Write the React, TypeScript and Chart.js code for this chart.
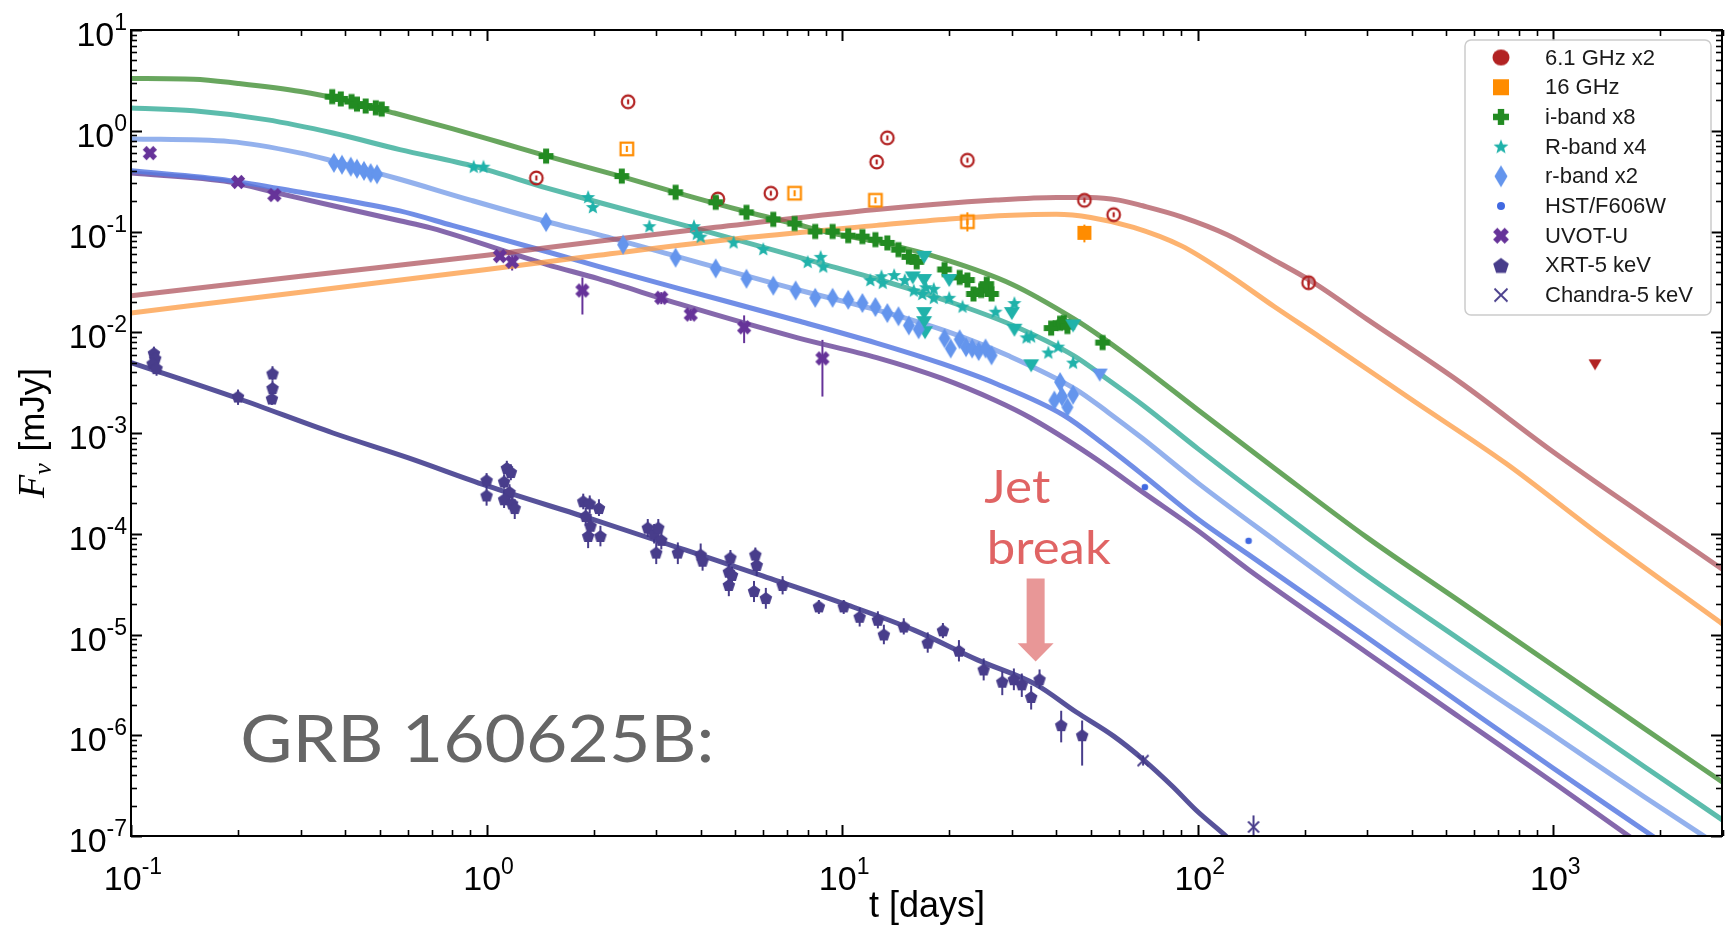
import React, { useEffect, useRef } from 'react';
import { Chart, registerables } from 'chart.js';

Chart.register(...registerables);

type P = number[];

const W = 1729;
const H = 927;

// ---------- axes ----------
const xMin = 0.1;
const xMax = 3000;
const yMin = 1e-7;
const yMax = 10;
const xTickExps = [-1, 0, 1, 2, 3];
const yTickExps = [1, 0, -1, -2, -3, -4, -5, -6, -7];
const xTitle = 't [days]';
const yTitleMain = 'F';
const yTitleSub = 'ν';
const yTitleUnit = ' [mJy]';

// ---------- legend ----------
const legendLabels = ['6.1 GHz x2', '16 GHz', 'i-band x8', 'R-band x4', 'r-band x2', 'HST/F606W', 'UVOT-U', 'XRT-5 keV', 'Chandra-5 keV'];

// ---------- annotations ----------
const grbText = 'GRB 160625B:';
const grbAt = [0.203, 5.4e-7];
const jetText = 'Jet';
const jetAt = [25.1, 2.0e-4];
const breakText = 'break';
const breakAt = [25.5, 5.0e-5];
const arrowT = 35;
const arrowF = [3.6e-5, 8.2e-6, 5.4e-6]; // shaft top, head base, tip

// ---------- model curves [t, F] ----------
const model61: P[] = [[0.1, 0.023], [0.3, 0.036], [1, 0.058], [2.06, 0.08], [4.4, 0.11], [12.5, 0.165], [27, 0.205], [40, 0.218], [50, 0.218], [60, 0.205], [70, 0.18], [90, 0.14], [121, 0.093], [164, 0.052], [209, 0.032], [299, 0.0135], [546, 0.0032], [993, 6.6e-4], [1810, 1.5e-4], [3000, 4.4e-5]];
const model16: P[] = [[0.1, 0.0155], [0.3, 0.025], [1, 0.042], [2.06, 0.058], [5.4, 0.087], [12.5, 0.115], [20, 0.133], [30, 0.145], [40, 0.148], [50, 0.138], [66, 0.11], [90, 0.072], [121, 0.038], [164, 0.018], [221, 0.0089], [403, 0.0021], [735, 5.0e-4], [1337, 1.0e-4], [3000, 1.26e-5]];
const modelI: P[] = [[0.1, 3.3], [0.15, 3.25], [0.2, 2.95], [0.3, 2.45], [0.4, 2.0], [0.55, 1.5], [0.8, 1.05], [1.1, 0.76], [1.48, 0.56], [2.4, 0.35], [3.4, 0.245], [5.35, 0.158], [7.3, 0.12], [9.25, 0.097], [12.8, 0.078], [19.7, 0.052], [30, 0.03], [45, 0.0135], [54, 0.0088], [70, 0.0045], [100, 0.0017], [164, 4.5e-4], [299, 9.2e-5], [546, 2.13e-5], [1000, 4.9e-6], [1800, 1.17e-6], [3000, 3.4e-7]];
const modelRb: P[] = [[0.1, 1.68], [0.15, 1.58], [0.24, 1.29], [0.37, 0.95], [0.57, 0.65], [0.93, 0.44], [1.48, 0.27], [2.06, 0.195], [3.85, 0.108], [8.4, 0.05], [12.8, 0.033], [19.7, 0.0205], [30, 0.0118], [45, 0.0058], [54, 0.0037], [70, 0.0019], [100, 7.0e-4], [164, 1.85e-4], [299, 3.85e-5], [546, 8.9e-6], [1000, 2.05e-6], [1800, 4.9e-7], [3000, 1.43e-7]];
const modelrb: P[] = [[0.1, 0.83], [0.19, 0.78], [0.3, 0.6], [0.37, 0.5], [0.57, 0.33], [0.9, 0.205], [1.48, 0.125], [2.06, 0.093], [3.4, 0.057], [7.3, 0.027], [12.8, 0.0163], [19.7, 0.0102], [29.5, 0.0058], [45.5, 0.0027], [56, 0.0016], [70, 8.8e-4], [100, 3.2e-4], [164, 8.7e-5], [299, 1.85e-5], [546, 4.2e-6], [1000, 1.0e-6], [1800, 2.45e-7], [3000, 7.5e-8]];
const modelHst: P[] = [[0.1, 0.40], [0.19, 0.32], [0.3, 0.245], [0.37, 0.215], [0.57, 0.16], [0.8, 0.115], [1.48, 0.063], [2.06, 0.045], [3.5, 0.027], [7.5, 0.013], [12.5, 0.0078], [19, 0.0049], [27, 0.0031], [42, 0.0015], [55, 7.5e-4], [71, 3.7e-4], [100, 1.4e-4], [139, 6.2e-5], [299, 9.4e-6], [546, 2.1e-6], [1000, 4.7e-7], [1900, 1.0e-7], [3000, 3.3e-8]];
const modelU: P[] = [[0.1, 0.38], [0.19, 0.31], [0.26, 0.24], [0.37, 0.18], [0.57, 0.128], [0.7, 0.108], [1.48, 0.047], [2.06, 0.034], [3.5, 0.019], [7.5, 0.0088], [12.5, 0.0056], [19, 0.0035], [27, 0.0021], [34, 0.0014], [50, 6.0e-4], [71, 2.5e-4], [99, 1.1e-4], [139, 4.4e-5], [299, 6.6e-6], [546, 1.5e-6], [1000, 3.4e-7], [1630, 1.0e-7], [3000, 2.2e-8]];
const modelX: P[] = [[0.1, 0.005], [0.2, 0.0022], [0.37, 0.001], [0.6, 5.7e-4], [1, 3.0e-4], [2, 1.38e-4], [3.45, 7.3e-5], [6, 3.8e-5], [10, 2.05e-5], [16, 1.1e-5], [24, 5.6e-6], [35, 3.2e-6], [45.5, 1.7e-6], [58, 9.8e-7], [70, 5.8e-7], [85, 3.1e-7], [99, 1.8e-7], [120, 1.0e-7], [140, 6.0e-8]];

// ---------- observations [t, F, (lo, hi)] ----------
const radio61: P[] = [[1.38, 0.34], [2.5, 1.94], [4.47, 0.21], [6.3, 0.24], [12.5, 0.49], [13.4, 0.85], [22.5, 0.51], [48, 0.204], [58, 0.147], [205, 0.031, 0.027, 0.036]];
const radio61UL: P[] = [[1310, 0.0048]];
const radio16: P[] = [[2.48, 0.66], [7.35, 0.24], [12.4, 0.204], [22.5, 0.125, 0.1, 0.155]];
const radio16Det: P[] = [[48, 0.097, 0.078, 0.117]];
const iBand: P[] = [[0.368, 2.18], [0.389, 2.07], [0.417, 1.95], [0.432, 1.84], [0.457, 1.76], [0.488, 1.69], [0.507, 1.64], [1.47, 0.56], [2.4, 0.355], [3.4, 0.245], [4.41, 0.195], [5.38, 0.155], [6.4, 0.132], [7.35, 0.12], [8.4, 0.1], [9.4, 0.1], [10.4, 0.091], [11.4, 0.089], [12.4, 0.083], [13.4, 0.077], [14.4, 0.066], [15.4, 0.056], [16.2, 0.05], [19.4, 0.042], [21.4, 0.035], [22.5, 0.033], [23.4, 0.024], [24.6, 0.026], [25.5, 0.03], [26.3, 0.024], [38.7, 0.011], [41, 0.0123], [42, 0.0125], [43, 0.0114], [54, 0.0079]];
const RBand: P[] = [[0.92, 0.44], [0.98, 0.44], [1.93, 0.22], [1.99, 0.175], [2.87, 0.113], [3.83, 0.113], [3.9, 0.095], [4.0, 0.089], [4.95, 0.078], [6.0, 0.067], [8.0, 0.05], [8.7, 0.056], [8.85, 0.045], [12.0, 0.033], [12.9, 0.036], [13.0, 0.031], [14.0, 0.037], [15.0, 0.033], [15.9, 0.026], [16.8, 0.024], [17.2, 0.028], [18.1, 0.027], [18.1, 0.022], [20, 0.022], [21.8, 0.018], [27, 0.016], [30.5, 0.0195], [33, 0.0089], [34, 0.0091], [38, 0.0063], [40.5, 0.0072], [44.6, 0.005]];
const RBandUL: P[] = [[15.8, 0.035], [17, 0.056], [17, 0.033], [17, 0.0155], [17, 0.0126], [17.1, 0.01], [20, 0.033], [30, 0.0155], [30.5, 0.0106], [34, 0.0047], [44.6, 0.0117]];
const rBand: P[] = [[0.372, 0.48], [0.392, 0.46], [0.415, 0.44], [0.432, 0.42], [0.452, 0.40], [0.472, 0.38], [0.492, 0.37], [1.47, 0.124], [2.42, 0.074], [3.4, 0.055], [4.41, 0.043], [5.38, 0.034], [6.4, 0.029], [7.4, 0.026], [8.4, 0.022], [9.4, 0.022], [10.4, 0.021], [11.4, 0.0195], [12.4, 0.0178], [13.4, 0.0155], [14.4, 0.0144], [15.4, 0.0117], [16.4, 0.0107], [19.4, 0.0087], [20.2, 0.0069], [21.4, 0.0085], [22.3, 0.0071], [23.2, 0.0069], [24.2, 0.0065], [25.3, 0.0069], [26.3, 0.0059], [39.5, 0.0021], [41, 0.0032], [41.5, 0.0023], [43, 0.0018], [44.6, 0.0024]];
const rBandUL: P[] = [[53, 0.0038]];
const hst: P[] = [[71, 2.9e-4], [139, 8.5e-5]];
const uvot: P[] = [[0.113, 0.6, 0.56, 0.64], [0.2, 0.31, 0.29, 0.33], [0.253, 0.23, 0.215, 0.245], [1.09, 0.057, 0.053, 0.061], [1.18, 0.05, 0.041, 0.058], [1.86, 0.026, 0.015, 0.035], [3.1, 0.022, 0.019, 0.025], [3.75, 0.015, 0.013, 0.017], [5.3, 0.0112, 0.0078, 0.0147], [8.8, 0.0055, 0.0023, 0.0084]];
const xrt: P[] = [
  [0.116, 0.0062, 0.0052, 0.0072], [0.117, 0.0055, 0.0047, 0.0064], [0.115, 0.0049, 0.0042, 0.0057], [0.118, 0.0044, 0.0037, 0.0051],
  [0.2, 0.0023, 0.0019, 0.0027], [0.25, 0.0039, 0.0033, 0.0046], [0.25, 0.0028, 0.0024, 0.0033], [0.249, 0.0022, 0.0019, 0.0026],
  [1.0, 3.4e-4, 2.9e-4, 4.0e-4], [1.0, 2.4e-4, 1.9e-4, 2.9e-4], [1.14, 4.5e-4, 3.8e-4, 5.3e-4], [1.17, 4.1e-4, 3.4e-4, 4.9e-4], [1.12, 3.3e-4, 2.8e-4, 3.9e-4], [1.16, 2.6e-4, 2.1e-4, 3.1e-4], [1.12, 2.2e-4, 1.8e-4, 2.7e-4], [1.18, 2.0e-4, 1.6e-4, 2.4e-4], [1.2, 1.8e-4, 1.4e-4, 2.2e-4],
  [1.87, 2.1e-4, 1.75e-4, 2.5e-4], [1.95, 2.0e-4, 1.6e-4, 2.4e-4], [2.07, 1.8e-4, 1.5e-4, 2.2e-4], [1.9, 1.5e-4, 1.2e-4, 1.8e-4], [1.96, 1.2e-4, 0.95e-4, 1.5e-4], [1.93, 9.5e-5, 7.2e-5, 1.2e-4], [2.09, 9.5e-5, 7.5e-5, 1.2e-4],
  [2.84, 1.15e-4, 9.3e-5, 1.4e-4], [2.96, 1.0e-4, 8e-5, 1.25e-4], [3.04, 1.15e-4, 9.3e-5, 1.4e-4], [3.1, 8.7e-5, 7e-5, 1.08e-4], [3.0, 6.5e-5, 5.0e-5, 8.2e-5], [3.45, 6.5e-5, 5.0e-5, 8.2e-5],
  [4.0, 6.2e-5, 4.8e-5, 8.0e-5], [4.05, 5.4e-5, 4.3e-5, 6.6e-5], [4.85, 5.8e-5, 4.9e-5, 6.9e-5], [4.8, 4.2e-5, 3.5e-5, 5.0e-5], [4.9, 3.9e-5, 3.2e-5, 4.7e-5], [4.8, 3.1e-5, 2.4e-5, 3.8e-5],
  [5.7, 6.2e-5, 5.2e-5, 7.3e-5], [5.75, 4.9e-5, 3.8e-5, 6.1e-5], [5.65, 2.7e-5, 2.1e-5, 3.4e-5], [6.1, 2.3e-5, 1.8e-5, 2.9e-5], [6.8, 3.1e-5, 2.5e-5, 3.8e-5],
  [8.6, 1.9e-5, 1.6e-5, 2.2e-5], [10.1, 1.9e-5, 1.6e-5, 2.2e-5], [11.2, 1.5e-5, 1.2e-5, 1.85e-5], [12.6, 1.4e-5, 1.15e-5, 1.7e-5], [13.1, 1.0e-5, 0.8e-5, 1.25e-5], [14.9, 1.2e-5, 1.0e-5, 1.45e-5],
  [17.4, 8.3e-6, 6.6e-6, 1.05e-5], [19.2, 1.1e-5, 0.92e-5, 1.3e-5], [21.3, 6.9e-6, 5.4e-6, 8.8e-6], [25, 4.5e-6, 3.5e-6, 5.8e-6], [28.2, 3.4e-6, 2.5e-6, 4.3e-6], [30.4, 3.6e-6, 2.8e-6, 4.6e-6],
  [32, 3.2e-6, 2.4e-6, 4.1e-6], [34, 2.4e-6, 1.8e-6, 3.1e-6], [35.9, 3.6e-6, 2.9e-6, 4.5e-6], [41.3, 1.26e-6, 0.85e-6, 1.75e-6], [47.3, 1.0e-6, 0.5e-6, 1.4e-6]
];
const chandra: P[] = [[70.2, 5.6e-7, 5.0e-7, 6.3e-7], [143.5, 1.23e-7, 1.0e-7, 1.6e-7]];

// ---------- colours ----------
const COL = {
  r61: '#b22222', o16: '#ff8c00', iB: '#228b22', RB: '#20b2aa', rB: '#6495ed', hst: '#4169e1', uvot: '#663399', xrt: '#483d8b',
  m61: 'rgba(172, 78, 88, 0.72)', m16: 'rgba(252, 158, 72, 0.78)', mI: 'rgba(78, 150, 66, 0.85)', mR: 'rgba(64, 176, 158, 0.85)',
  mr: 'rgba(128, 163, 234, 0.85)', mH: 'rgba(88, 122, 226, 0.85)', mU: 'rgba(112, 78, 158, 0.85)', mX: 'rgba(58, 52, 136, 0.85)'
};

const SANS = '"Liberation Sans", Arial, sans-serif';
const DECO = 'Lato, "Open Sans", sans-serif';
const TICK_BASE = 34;
const TICK_SUP = 23;

// ---------- marker images ----------
function cvs(w: number, h: number, draw: (g: CanvasRenderingContext2D, cx: number, cy: number) => void) {
  const c = document.createElement('canvas');
  c.width = w;
  c.height = h;
  const g = c.getContext('2d') as CanvasRenderingContext2D;
  draw(g, w / 2, h / 2);
  return c;
}
function fillPoly(g: CanvasRenderingContext2D, pts: number[][], color: string) {
  g.fillStyle = color;
  g.beginPath();
  pts.forEach((p, i) => (i ? g.lineTo(p[0], p[1]) : g.moveTo(p[0], p[1])));
  g.closePath();
  g.fill();
}
function plusPts(cx: number, cy: number, s: number, a: number, rot: number) {
  const raw = [[-a, -s], [a, -s], [a, -a], [s, -a], [s, a], [a, a], [a, s], [-a, s], [-a, a], [-s, a], [-s, -a], [-a, -a]];
  const c = Math.cos(rot), sn = Math.sin(rot);
  return raw.map(([x, y]) => [cx + x * c - y * sn, cy + x * sn + y * c]);
}
function starPts(cx: number, cy: number, R: number, r: number) {
  const pts: number[][] = [];
  for (let i = 0; i < 10; i++) {
    const a = -Math.PI / 2 + (i * Math.PI) / 5;
    const rad = i % 2 ? r : R;
    pts.push([cx + rad * Math.cos(a), cy + rad * Math.sin(a)]);
  }
  return pts;
}
function ngon(cx: number, cy: number, R: number, n: number) {
  const pts: number[][] = [];
  for (let i = 0; i < n; i++) {
    const a = -Math.PI / 2 + (i * 2 * Math.PI) / n;
    pts.push([cx + R * Math.cos(a), cy + R * Math.sin(a) + R * 0.1]);
  }
  return pts;
}

function buildMarkers() {
  const m: any = {};
  m.redOpen = cvs(18, 18, (g, cx, cy) => {
    g.strokeStyle = COL.r61; g.lineWidth = 2.2;
    g.beginPath(); g.arc(cx, cy, 6.3, 0, Math.PI * 2); g.stroke();
    g.beginPath(); g.moveTo(cx, cy - 2.5); g.lineTo(cx, cy + 2.5); g.stroke();
  });
  m.redTri = cvs(16, 14, (g) => fillPoly(g, [[1.5, 2], [14.5, 2], [8, 13]], COL.r61));
  m.orgOpen = cvs(18, 18, (g, cx, cy) => {
    g.strokeStyle = COL.o16; g.lineWidth = 2.2;
    g.strokeRect(cx - 6.3, cy - 6.3, 12.6, 12.6);
    g.beginPath(); g.moveTo(cx, cy - 3); g.lineTo(cx, cy + 3); g.stroke();
  });
  m.orgFill = cvs(16, 16, (g, cx, cy) => { g.fillStyle = COL.o16; g.fillRect(cx - 7, cy - 7, 14, 14); });
  m.plus = cvs(18, 18, (g, cx, cy) => fillPoly(g, plusPts(cx, cy, 7.4, 3.0, 0), COL.iB));
  m.star = cvs(20, 20, (g, cx, cy) => fillPoly(g, starPts(cx, cy + 0.5, 7.4, 3.2), COL.RB));
  m.tealTri = cvs(18, 16, (g) => fillPoly(g, [[1, 2], [17, 2], [9, 15]], COL.RB));
  m.diam = cvs(14, 22, (g, cx, cy) => fillPoly(g, [[cx, cy - 10], [cx + 6, cy], [cx, cy + 10], [cx - 6, cy]], COL.rB));
  m.lbTri = cvs(18, 16, (g) => fillPoly(g, [[1, 2], [17, 2], [9, 15]], COL.rB));
  m.dot = cvs(10, 10, (g, cx, cy) => { g.fillStyle = COL.hst; g.beginPath(); g.arc(cx, cy, 3.3, 0, Math.PI * 2); g.fill(); });
  m.xfill = cvs(18, 18, (g, cx, cy) => fillPoly(g, plusPts(cx, cy, 7.4, 2.7, Math.PI / 4), COL.uvot));
  m.pent = cvs(16, 16, (g, cx, cy) => fillPoly(g, ngon(cx, cy, 6.6, 5), COL.xrt));
  m.xthin = cvs(16, 16, (g, cx, cy) => {
    g.strokeStyle = COL.xrt; g.lineWidth = 1.8;
    g.beginPath(); g.moveTo(cx - 5.5, cy - 5.5); g.lineTo(cx + 5.5, cy + 5.5);
    g.moveTo(cx + 5.5, cy - 5.5); g.lineTo(cx - 5.5, cy + 5.5); g.stroke();
  });
  // legend markers
  m.lg = [
    cvs(22, 22, (g, cx, cy) => { g.fillStyle = COL.r61; g.beginPath(); g.ellipse(cx, cy, 8.5, 8, 0, 0, Math.PI * 2); g.fill(); }),
    cvs(22, 22, (g, cx, cy) => { g.fillStyle = COL.o16; g.fillRect(cx - 8, cy - 8, 16, 16); }),
    cvs(22, 22, (g, cx, cy) => fillPoly(g, plusPts(cx, cy, 8, 3.2, 0), COL.iB)),
    cvs(22, 22, (g, cx, cy) => fillPoly(g, starPts(cx, cy + 0.5, 7.8, 3.3), COL.RB)),
    cvs(22, 26, (g, cx, cy) => fillPoly(g, [[cx, cy - 11], [cx + 6.5, cy], [cx, cy + 11], [cx - 6.5, cy]], COL.rB)),
    cvs(22, 22, (g, cx, cy) => { g.fillStyle = COL.hst; g.beginPath(); g.arc(cx, cy, 4, 0, Math.PI * 2); g.fill(); }),
    cvs(22, 22, (g, cx, cy) => fillPoly(g, plusPts(cx, cy, 8.2, 3.0, Math.PI / 4), COL.uvot)),
    cvs(22, 22, (g, cx, cy) => fillPoly(g, ngon(cx, cy, 8.2, 5), COL.xrt)),
    cvs(22, 22, (g, cx, cy) => {
      g.strokeStyle = COL.xrt; g.lineWidth = 1.8;
      g.beginPath(); g.moveTo(cx - 6.5, cy - 6.5); g.lineTo(cx + 6.5, cy + 6.5);
      g.moveTo(cx + 6.5, cy - 6.5); g.lineTo(cx - 6.5, cy + 6.5); g.stroke();
    })
  ];
  return m;
}

const toXY = (arr: P[]) => arr.map((p) => ({ x: p[0], y: p[1], lo: p[2], hi: p[3] }));

function modelDs(arr: P[], color: string) {
  return {
    type: 'line', label: '', data: toXY(arr), borderColor: color, borderWidth: 5, pointRadius: 0,
    cubicInterpolationMode: 'monotone', fill: false, order: 10, showLine: true
  };
}
function pointDs(arr: P[], style: any, errColor?: string) {
  return {
    type: 'line', label: '', data: toXY(arr), showLine: false, pointStyle: style, pointRadius: 6,
    borderWidth: 0, order: 1, errColor
  };
}

function pow10(ctx: CanvasRenderingContext2D, exp: number, x: number, y: number, align: string) {
  const base = '10';
  const sup = String(exp);
  ctx.font = `${TICK_BASE}px ${SANS}`;
  const wb = ctx.measureText(base).width;
  ctx.font = `${TICK_SUP}px ${SANS}`;
  const ws = ctx.measureText(sup).width;
  const total = wb + ws;
  const x0 = align === 'center' ? x - total / 2 : x - total;
  ctx.textAlign = 'left';
  ctx.textBaseline = 'alphabetic';
  ctx.font = `${TICK_BASE}px ${SANS}`;
  ctx.fillText(base, x0, y);
  ctx.font = `${TICK_SUP}px ${SANS}`;
  ctx.fillText(sup, x0 + wb, y - 16);
}

function fitText(ctx: CanvasRenderingContext2D, s: string, x: number, y: number, size: number, targetW: number, color: string) {
  ctx.save();
  ctx.font = `400 ${size}px ${DECO}`;
  const w = ctx.measureText(s).width;
  ctx.translate(x, y);
  ctx.scale(targetW / w, 1);
  ctx.fillStyle = color;
  ctx.textAlign = 'left';
  ctx.textBaseline = 'alphabetic';
  ctx.fillText(s, 0, 0);
  ctx.restore();
}

export default function App() {
  const ref = useRef<HTMLCanvasElement>(null);

  useEffect(() => {
    document.body.style.margin = '0';
    const canvas = ref.current as HTMLCanvasElement;
    const M = buildMarkers();

    const datasets: any[] = [
      modelDs(model61, COL.m61),
      modelDs(model16, COL.m16),
      modelDs(modelI, COL.mI),
      modelDs(modelRb, COL.mR),
      modelDs(modelrb, COL.mr),
      modelDs(modelHst, COL.mH),
      modelDs(modelU, COL.mU),
      modelDs(modelX, COL.mX),
      pointDs(xrt, M.pent, COL.xrt),
      pointDs(chandra, M.xthin, COL.xrt),
      pointDs(uvot, M.xfill, COL.uvot),
      pointDs(hst, M.dot),
      pointDs(rBandUL, M.lbTri),
      pointDs(rBand, M.diam),
      pointDs(RBandUL, M.tealTri),
      pointDs(RBand, M.star),
      pointDs(iBand, M.plus),
      pointDs(radio16Det, M.orgFill, COL.o16),
      pointDs(radio16, M.orgOpen, COL.o16),
      pointDs(radio61UL, M.redTri),
      pointDs(radio61, M.redOpen, COL.r61)
    ];

    const deco = {
      id: 'deco',
      beforeDatasetsDraw(chart: any) {
        const { ctx, chartArea: a, scales } = chart;
        const x = scales.x, y = scales.y;
        ctx.save();
        ctx.beginPath();
        ctx.rect(a.left, a.top, a.right - a.left, a.bottom - a.top);
        ctx.clip();
        ctx.lineWidth = 2;
        chart.data.datasets.forEach((ds: any) => {
          if (!ds.errColor) return;
          ctx.strokeStyle = ds.errColor;
          ds.data.forEach((p: any) => {
            if (p.lo == null) return;
            const px = x.getPixelForValue(p.x);
            ctx.beginPath();
            ctx.moveTo(px, y.getPixelForValue(p.lo));
            ctx.lineTo(px, y.getPixelForValue(p.hi));
            ctx.stroke();
          });
        });
        ctx.restore();
      },
      afterDatasetsDraw(chart: any) {
        const { ctx, chartArea: a, scales } = chart;
        const x = scales.x, y = scales.y;
        const L = a.left, R = a.right - 1, T = a.top, B = a.bottom;
        ctx.save();
        ctx.strokeStyle = '#000';
        ctx.lineWidth = 2;
        ctx.strokeRect(L, T, R - L, B - T);
        const seg = (x1: number, y1: number, x2: number, y2: number) => {
          ctx.beginPath(); ctx.moveTo(x1, y1); ctx.lineTo(x2, y2); ctx.stroke();
        };
        for (let e = -1; e <= 3; e++) {
          for (let k = 1; k <= 9; k++) {
            const v = k * Math.pow(10, e);
            if (v < xMin * 0.999 || v > xMax * 1.001) continue;
            const px = Math.round(x.getPixelForValue(v)) + 0.5;
            const len = k === 1 ? 11 : 6;
            ctx.lineWidth = k === 1 ? 2 : 1.6;
            seg(px, B, px, B - len);
            seg(px, T, px, T + len);
          }
        }
        for (let e = -7; e <= 1; e++) {
          for (let k = 1; k <= 9; k++) {
            const v = k * Math.pow(10, e);
            if (v < yMin * 0.999 || v > yMax * 1.001) continue;
            const py = Math.round(y.getPixelForValue(v)) + 0.5;
            const len = k === 1 ? 11 : 6;
            ctx.lineWidth = k === 1 ? 2 : 1.6;
            seg(L, py, L + len, py);
            seg(R, py, R - len, py);
          }
        }
        ctx.restore();
      },
      afterDraw(chart: any) {
        const { ctx, chartArea: a, scales } = chart;
        const x = scales.x, y = scales.y;
        ctx.save();
        ctx.fillStyle = '#000';
        // tick labels
        xTickExps.forEach((e) => pow10(ctx, e, x.getPixelForValue(Math.pow(10, e)) + 2, a.bottom + 54, 'center'));
        yTickExps.forEach((e) => pow10(ctx, e, a.left - 4, y.getPixelForValue(Math.pow(10, e)) + 16, 'right'));
        // axis titles
        ctx.font = `36px ${SANS}`;
        ctx.textAlign = 'center';
        ctx.fillText(xTitle, (a.left + a.right) / 2, 917);
        ctx.save();
        ctx.translate(31, (a.top + a.bottom) / 2);
        ctx.rotate(-Math.PI / 2);
        ctx.textAlign = 'left';
        ctx.font = `italic 38px "Liberation Serif", serif`;
        const wF = ctx.measureText(yTitleMain).width;
        ctx.font = `italic 26px "Liberation Serif", serif`;
        const wN = ctx.measureText(yTitleSub).width;
        ctx.font = `35px ${SANS}`;
        const wU = ctx.measureText(yTitleUnit).width;
        const tot = wF + wN + 2 + wU;
        let cx = -tot / 2;
        ctx.font = `italic 38px "Liberation Serif", serif`;
        ctx.fillText(yTitleMain, cx, 13);
        cx += wF;
        ctx.font = `italic 26px "Liberation Serif", serif`;
        ctx.fillText(yTitleSub, cx, 20);
        cx += wN + 2;
        ctx.font = `35px ${SANS}`;
        ctx.fillText(yTitleUnit, cx, 13);
        ctx.restore();

        // annotations
        fitText(ctx, grbText, x.getPixelForValue(grbAt[0]), y.getPixelForValue(grbAt[1]), 66, 474, '#666666');
        fitText(ctx, jetText, x.getPixelForValue(jetAt[0]), y.getPixelForValue(jetAt[1]), 46, 66, '#e06464');
        fitText(ctx, breakText, x.getPixelForValue(breakAt[0]), y.getPixelForValue(breakAt[1]), 46, 124, '#e06464');
        const ax = x.getPixelForValue(arrowT);
        const yT = y.getPixelForValue(arrowF[0]);
        const yH = y.getPixelForValue(arrowF[1]);
        const yP = y.getPixelForValue(arrowF[2]);
        ctx.fillStyle = 'rgba(230, 140, 140, 0.9)';
        ctx.beginPath();
        ctx.moveTo(ax - 9, yT); ctx.lineTo(ax + 9, yT); ctx.lineTo(ax + 9, yH); ctx.lineTo(ax + 18, yH);
        ctx.lineTo(ax, yP); ctx.lineTo(ax - 18, yH); ctx.lineTo(ax - 9, yH); ctx.closePath();
        ctx.fill();

        // legend
        const lw = 246, lh = 275;
        const lx = a.right - 258, ly = a.top + 10;
        ctx.beginPath();
        const r = 6;
        ctx.moveTo(lx + r, ly);
        ctx.arcTo(lx + lw, ly, lx + lw, ly + lh, r);
        ctx.arcTo(lx + lw, ly + lh, lx, ly + lh, r);
        ctx.arcTo(lx, ly + lh, lx, ly, r);
        ctx.arcTo(lx, ly, lx + lw, ly, r);
        ctx.closePath();
        ctx.fillStyle = 'rgba(255,255,255,0.85)';
        ctx.fill();
        ctx.strokeStyle = '#cccccc';
        ctx.lineWidth = 1.5;
        ctx.stroke();
        ctx.font = `22px ${SANS}`;
        ctx.textAlign = 'left';
        ctx.textBaseline = 'middle';
        ctx.fillStyle = '#1a1a1a';
        legendLabels.forEach((lab, i) => {
          const ry = ly + 17.5 + i * 29.7;
          const img = M.lg[i];
          ctx.drawImage(img, lx + 36 - img.width / 2, ry - img.height / 2);
          ctx.fillText(lab, lx + 80, ry + 1);
        });
        ctx.restore();
      }
    };

    const chart = new Chart(canvas, {
      type: 'line',
      data: { datasets },
      options: {
        responsive: false,
        maintainAspectRatio: false,
        devicePixelRatio: 1,
        animation: false,
        events: [],
        layout: { padding: { top: 30, right: 0, left: 0, bottom: 0 } },
        plugins: { legend: { display: false }, tooltip: { enabled: false } },
        scales: {
          x: {
            type: 'logarithmic', min: xMin, max: xMax,
            grid: { display: false }, border: { display: false }, ticks: { display: false },
            afterFit: (s: any) => { s.height = 91; }
          },
          y: {
            type: 'logarithmic', min: yMin, max: yMax,
            grid: { display: false }, border: { display: false }, ticks: { display: false },
            afterFit: (s: any) => { s.width = 131; }
          }
        }
      } as any,
      plugins: [deco]
    } as any);

    return () => chart.destroy();
  }, []);

  return (
    <div style={{ position: 'absolute', left: 0, top: 0, width: W, height: H, background: '#fff' }}>
      <canvas ref={ref} width={W} height={H} style={{ display: 'block', width: W, height: H }} />
    </div>
  );
}
